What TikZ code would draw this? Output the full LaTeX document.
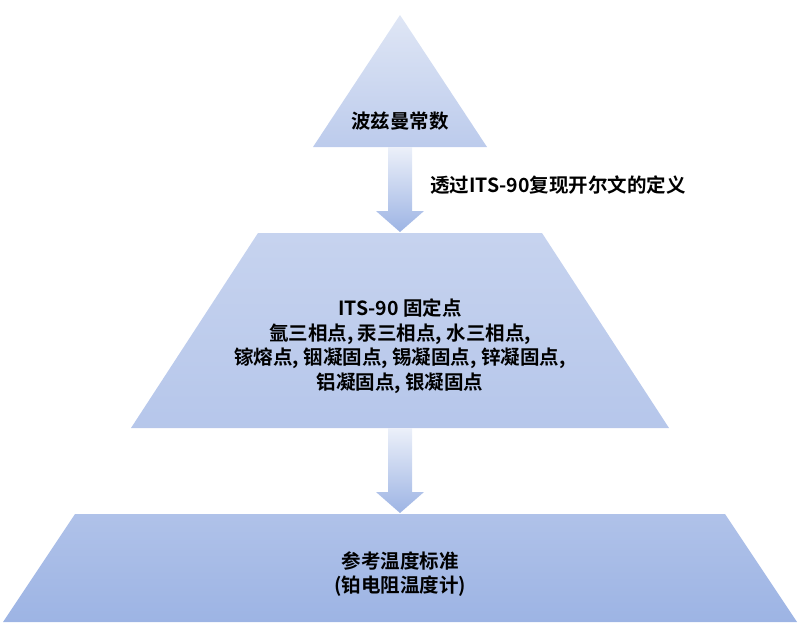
\documentclass[tikz,border=0pt]{standalone}
\usepackage{fontspec}
\setmainfont{Noto Sans CJK SC}[BoldFont={* Bold}]
\usetikzlibrary{positioning}
\definecolor{tierlight}{HTML}{DFE6F5}
\definecolor{tiermid}{HTML}{BCCBEC}
\definecolor{tierdark}{HTML}{9DB4E4}
\tikzset{
  tier/.style={top color=tierlight,bottom color=tiermid,draw=none},
  flow/.style={top color=tierlight!60!white,bottom color=tierdark,draw=none},
  lbl/.style={font=\fontsize{19.5}{24.5}\selectfont\bfseries,align=center,inner sep=0pt}
}
\begin{document}
\begin{tikzpicture}[x=1pt,y=-1pt]
\useasboundingbox (0,0) rectangle (800,630);
% tiers
\shade[tier] (400,15) -- (487,147) -- (313,147) -- cycle;
\shade[tier,top color=tiermid!70!tierlight,bottom color=tiermid!80!tierdark] (258,233) -- (542,233) -- (669,428) -- (131,428) -- cycle;
\shade[tier,top color=tiermid!60!tierdark,bottom color=tierdark] (75,514) -- (725,514) -- (797,622) -- (3,622) -- cycle;
% arrows
\shade[flow] (388,147) -- (412,147) -- (412,211) -- (424,211) -- (400,232) -- (376,211) -- (388,211) -- cycle;
\shade[flow] (388,428) -- (412,428) -- (412,492) -- (424,492) -- (400,513) -- (376,492) -- (388,492) -- cycle;
% texts
\node[lbl] (top) at (400,121) {波兹曼常数};
\node[lbl,anchor=west] (via) at (430,185) {透过ITS-90复现开尔文的定义};
\node[lbl] (fixed) at (400,346) {ITS-90 固定点\\氩三相点, 汞三相点, 水三相点,\\镓熔点, 铟凝固点, 锡凝固点, 锌凝固点,\\铝凝固点, 银凝固点};
\node[lbl] (ref) at (400,574) {参考温度标准\\(铂电阻温度计)};
\end{tikzpicture}
\end{document}
